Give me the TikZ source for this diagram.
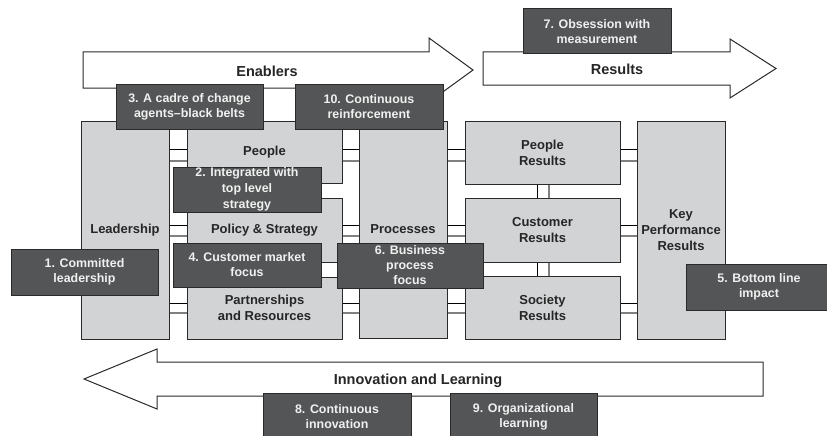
\documentclass[tikz,border=0pt]{standalone}
\usepackage{fontspec}
\setmainfont{Liberation Sans}
\definecolor{boxgray}{HTML}{D2D3D5}
\definecolor{darkbox}{HTML}{545556}
\definecolor{edgecol}{HTML}{2A2A2A}
\definecolor{txtdark}{HTML}{262626}
\definecolor{txtlight}{HTML}{F0F0F0}
\tikzset{
  gbox/.style={draw=edgecol, line width=1pt, fill=boxgray, inner sep=0pt, align=center,
    font=\fontsize{13}{16}\selectfont\bfseries, text=txtdark},
  dbox/.style={draw=edgecol, line width=1pt, fill=darkbox, inner sep=0pt, align=center,
    font=\fontsize{12.4}{15}\selectfont\bfseries, text=txtlight},
  bigarrow/.style={draw=edgecol, line width=1pt, fill=white, line join=miter},
  arrlabel/.style={inner sep=0pt, font=\fontsize{14.5}{17}\selectfont\bfseries, text=txtdark},
  pipetop/.style={draw=black, line width=0.8pt},
  pipebot/.style={draw=black!50, line width=1.2pt},
}
\begin{document}
\begin{tikzpicture}[x=1pt,y=-1pt]
\useasboundingbox (0,0) rectangle (827,436);
% big arrows
\draw[bigarrow] (83,52) -- (429,52) -- (429,38) -- (473,70) -- (429,102) -- (429,88) -- (83,88) -- cycle;
\node[arrlabel] (enab) at (267,71) {Enablers};
\draw[bigarrow] (483,52) -- (730,52) -- (730,39) -- (776,68.5) -- (730,98) -- (730,85) -- (483,85) -- cycle;
\node[arrlabel] (res) at (617,69) {Results};
\draw[bigarrow] (763,362) -- (157,362) -- (157,349) -- (84,379) -- (157,409) -- (157,396) -- (763,396) -- cycle;
\node[arrlabel] (innov) at (418,381) {Innovation and Learning};
% gray boxes
\node[gbox, minimum width=88pt, minimum height=218pt] (lead) at (125,230) {Leadership};
\node[gbox, minimum width=155pt, minimum height=62pt] (people) at (264.5,152) {People};
\node[gbox, minimum width=155pt, minimum height=64pt] (policy) at (264.5,230) {Policy \& Strategy};
\node[gbox, minimum width=155pt, minimum height=62pt] (partner) at (264.5,308) {Partnerships\\and Resources};
\node[gbox, minimum width=88pt, minimum height=217pt] (proc) at (403,229.5) {Processes};
\node[gbox, minimum width=155pt, minimum height=63pt] (pres) at (542.5,152.5) {People\\Results};
\node[gbox, minimum width=155pt, minimum height=64pt] (cres) at (542.5,230) {Customer\\Results};
\node[gbox, minimum width=155pt, minimum height=63pt] (sres) at (542.5,307.5) {Society\\Results};
\node[gbox, minimum width=88pt, minimum height=218pt] (kpr) at (681,230) {Key\\Performance\\Results};
% connectors (double lines)
\foreach \ya/\yb/\mid in {149/161/people, 225/236/policy, 303/313/partner}{
  \draw[pipetop] (lead.east |- 0,\ya) -- (\mid.west |- 0,\ya);
  \draw[pipebot] (lead.east |- 0,\yb) -- (\mid.west |- 0,\yb);
  \draw[pipetop] (\mid.east |- 0,\ya) -- (proc.west |- 0,\ya);
  \draw[pipebot] (\mid.east |- 0,\yb) -- (proc.west |- 0,\yb);
}
\foreach \ya/\yb/\rr in {149/161/pres, 225/236/cres, 303/313/sres}{
  \draw[pipetop] (proc.east |- 0,\ya) -- (\rr.west |- 0,\ya);
  \draw[pipebot] (proc.east |- 0,\yb) -- (\rr.west |- 0,\yb);
  \draw[pipetop] (\rr.east |- 0,\ya) -- (kpr.west |- 0,\ya);
  \draw[pipebot] (\rr.east |- 0,\yb) -- (kpr.west |- 0,\yb);
}
\draw[pipetop] (pres.south -| 537,0) -- (cres.north -| 537,0);
\draw[pipebot] (pres.south -| 549,0) -- (cres.north -| 549,0);
\draw[pipetop] (cres.south -| 537,0) -- (sres.north -| 537,0);
\draw[pipebot] (cres.south -| 549,0) -- (sres.north -| 549,0);
% dark boxes
\node[dbox, minimum width=147pt, minimum height=46pt] (b1) at (84.5,272) {1. Committed\\leadership};
\node[dbox, minimum width=148pt, minimum height=45pt, font=\fontsize{12.4}{16}\selectfont\bfseries] (b2) at (247,189.5) {2. Integrated with\\top level\\strategy};
\node[dbox, minimum width=147pt, minimum height=45pt] (b3) at (189.5,106.5) {3. A cadre of change\\agents–black belts};
\node[dbox, minimum width=148pt, minimum height=44pt] (b4) at (247,265) {4. Customer market\\focus};
\node[dbox, minimum width=146pt, minimum height=46pt] (b5) at (759,287) {5. Bottom line\\impact};
\node[dbox, minimum width=146pt, minimum height=45pt, font=\fontsize{12.4}{15}\selectfont\bfseries] (b6) at (410,265.5) {6. Business\\process\\focus};
\node[dbox, minimum width=148pt, minimum height=45pt] (b7) at (597,31.5) {7. Obsession with\\measurement};
\node[dbox, minimum width=148pt, minimum height=47pt] (b8) at (337,416.5) {8. Continuous\\innovation};
\node[dbox, minimum width=147pt, minimum height=47pt] (b9) at (523.5,416.5) {9. Organizational\\learning};
\node[dbox, minimum width=148pt, minimum height=45pt] (b10) at (369,106.5) {10. Continuous\\reinforcement};
\end{tikzpicture}
\end{document}
